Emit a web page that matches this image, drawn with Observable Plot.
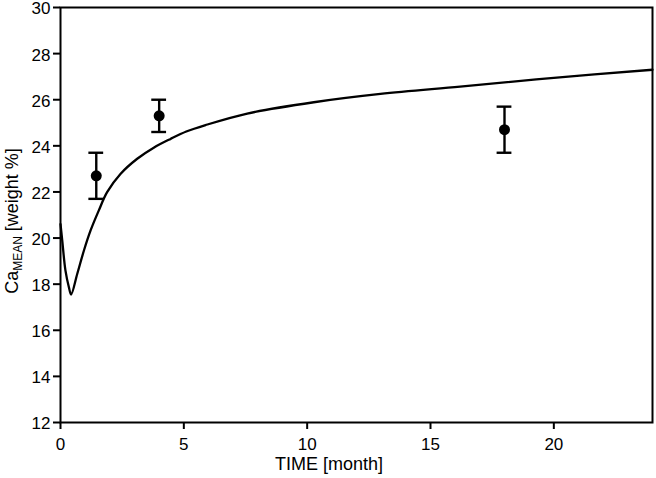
<!DOCTYPE html>
<html>
<head>
<meta charset="utf-8">
<script src="https://cdn.jsdelivr.net/npm/d3@7"></script>
<script src="https://cdn.jsdelivr.net/npm/@observablehq/plot@0.6"></script>
<style>
  html, body { margin: 0; padding: 0; background: #fff; }
  #chart svg { display: block; }
</style>
</head>
<body>
<div id="chart"></div>
<script>
// Model curve
const curveT = [0, 0.07, 0.2, 0.34, 0.43, 0.68, 0.95, 1.22, 1.55, 1.89, 2.43, 3.11, 3.78, 4.46, 5.1, 5.88, 7.57, 10.27, 12.97, 16.2, 20, 24];
const curveY = [20.6, 19.9, 18.6, 17.87, 17.55, 18.45, 19.46, 20.33, 21.19, 21.99, 22.78, 23.44, 23.92, 24.3, 24.62, 24.9, 25.4, 25.89, 26.25, 26.57, 26.95, 27.3];

// Measured points with error bars
const obsT = [1.45, 4.0, 18.0];
const obsY = [22.7, 25.3, 24.7];
const obsLo = [21.7, 24.6, 23.7];
const obsHi = [23.7, 26.0, 25.7];

const xTicks = [0, 5, 10, 15, 20];
const yTicks = [12, 14, 16, 18, 20, 22, 24, 26, 28, 30];

const curve = curveT.map((t, i) => ({t, y: curveY[i]}));
const obs = obsT.map((t, i) => ({t, y: obsY[i], lo: obsLo[i], hi: obsHi[i]}));
const capHalf = 0.3;

const chart = Plot.plot({
  width: 656,
  height: 478,
  marginLeft: 60,
  marginRight: 4,
  marginTop: 7,
  marginBottom: 56,
  style: {fontFamily: "'Liberation Sans', Arial, sans-serif", fontSize: "17px", color: "#000", background: "#fff"},
  x: {domain: [0, 24], ticks: xTicks, label: null},
  y: {domain: [12, 30], ticks: yTicks, label: null},
  marks: [
    Plot.axisX({ticks: xTicks, tickSize: 7, tickPadding: 8, strokeWidth: 2, fontSize: 17, label: null}),
    Plot.axisY({ticks: yTicks, tickSize: 7, strokeWidth: 2, tickFormat: () => "", label: null}),
    Plot.axisY({ticks: yTicks, tickSize: 0, tickPadding: 10, fontSize: 17, dy: 1.5, label: null}),
    Plot.frame({stroke: "#000", strokeWidth: 2}),
    Plot.line(curve, {x: "t", y: "y", stroke: "#000", strokeWidth: 2.3, curve: "catmull-rom"}),
    Plot.ruleX(obs, {x: "t", y1: "lo", y2: "hi", stroke: "#000", strokeWidth: 2.4}),
    Plot.ruleY(obs, {y: "lo", x1: d => d.t - capHalf, x2: d => d.t + capHalf, stroke: "#000", strokeWidth: 2.4}),
    Plot.ruleY(obs, {y: "hi", x1: d => d.t - capHalf, x2: d => d.t + capHalf, stroke: "#000", strokeWidth: 2.4}),
    Plot.dot(obs, {x: "t", y: "y", r: 5.5, fill: "#000", stroke: "none"})
  ]
});

document.getElementById("chart").appendChild(chart);

// Axis titles (with subscript)
const svg = d3.select(chart);
svg.append("text")
  .attr("x", 329).attr("y", 470)
  .attr("text-anchor", "middle")
  .attr("font-size", 18)
  .attr("fill", "#000")
  .text("TIME [month]");

const yl = svg.append("text")
  .attr("transform", "translate(18,221) rotate(-90)")
  .attr("text-anchor", "middle")
  .attr("font-size", 18)
  .attr("fill", "#000");
yl.append("tspan").text("Ca");
yl.append("tspan").attr("font-size", 12).attr("dy", 4).text("MEAN");
yl.append("tspan").attr("dy", -4).text(" [weight %]");
</script>
</body>
</html>
